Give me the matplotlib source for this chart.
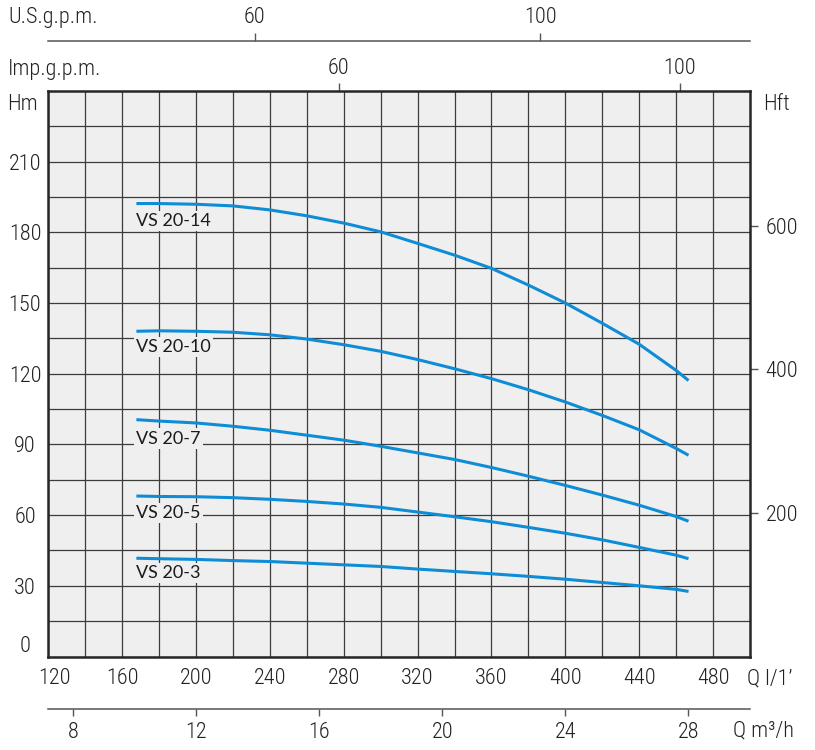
import numpy as np
import matplotlib
matplotlib.use("Agg")
import matplotlib.pyplot as plt
from matplotlib import font_manager as fm
from matplotlib.transforms import ScaledTranslation

# portata in l/min e prevalenza in m
portata = [167.7, 180, 200, 220, 240, 260, 280, 300, 320, 340, 360, 380, 400, 420, 440, 460, 466.7]
curve = {
    "VS 20-14": [192.2, 192.2, 191.9, 191.2, 189.5, 187.0, 183.9, 180.2, 175.3, 170.3, 164.7, 157.6, 150.0, 141.4, 132.5, 121.4, 117.1],
    "VS 20-10": [138.0, 138.2, 138.0, 137.6, 136.5, 134.7, 132.3, 129.5, 126.0, 122.1, 117.9, 113.2, 108.0, 102.3, 96.2, 88.3, 85.4],
    "VS 20-7": [100.5, 99.9, 99.1, 97.7, 96.0, 93.9, 91.8, 89.2, 86.4, 83.6, 80.2, 76.5, 72.6, 68.5, 64.2, 59.4, 57.4],
    "VS 20-5": [68.1, 67.9, 67.8, 67.4, 66.7, 65.8, 64.7, 63.3, 61.3, 59.3, 57.2, 54.8, 52.3, 49.5, 46.3, 43.0, 41.5],
    "VS 20-3": [41.7, 41.5, 41.2, 40.7, 40.3, 39.6, 38.9, 38.2, 37.1, 36.1, 35.1, 34.0, 32.8, 31.4, 30.0, 28.5, 27.6],
}
etichette_y = {"VS 20-14": 184.8, "VS 20-10": 131.3, "VS 20-7": 92.5, "VS 20-5": 61.0, "VS 20-3": 35.4}
etichette_x = 167.7

tick_lmin = [120, 160, 200, 240, 280, 320, 360, 400, 440, 480]
tick_m = [0, 30, 60, 90, 120, 150, 180, 210]
tick_m3h = [8, 12, 16, 20, 24, 28]
tick_usgpm = [60, 100]
tick_impgpm = [60, 100]
tick_ft = [200, 400, 600]

# scelta di un font stretto per i numeri
ttf = fm.fontManager.ttflist
nomi = {f.name for f in ttf}
fs = 16
if 'Liberation Sans Narrow' in nomi:
    plt.rcParams['font.family'] = ['Liberation Sans Narrow', 'DejaVu Sans']
elif 'Roboto Condensed' in nomi:
    plt.rcParams['font.family'] = ['Roboto Condensed', 'DejaVu Sans']
    plt.rcParams['font.weight'] = 'light'
elif any(f.name == 'DejaVu Sans' and f.stretch == 'condensed' for f in ttf):
    plt.rcParams['font.family'] = ['DejaVu Sans']
    plt.rcParams['font.stretch'] = 'condensed'
else:
    plt.rcParams['font.family'] = ['Roboto', 'DejaVu Sans']
    fs = 14.5

blu = '#0e8dd6'
sfondo = '#efefef'
grigio = '#555555'
nero = '#222222'

fig = plt.figure(figsize=(8.15, 7.5), dpi=100)
W, H = 815, 750
L, R, T, B = 48.3, 750, 90.9, 656.5
ax = fig.add_axes([L / W, 1 - B / H, (R - L) / W, (B - T) / H])
ax.set_facecolor(sfondo)
ax.set_xlim(120, 500)
ax.set_ylim(0, 240)

ax.set_xticks(tick_lmin)
ax.set_xticks(np.arange(140, 500, 40), minor=True)
ax.set_yticks(tick_m)
ax.set_yticks(np.arange(15, 240, 15), minor=True)
ax.grid(True, which='both', color='#3c3c3c', lw=0.9)
ax.set_axisbelow(True)
ax.tick_params(which='both', length=0)
ax.tick_params(axis='x', labelsize=fs, pad=8.5, colors=nero)
ax.tick_params(axis='y', labelsize=fs, pad=16.8, colors=nero)
for lab in ax.get_yticklabels():
    lab.set_ha('center')
for s in ax.spines.values():
    s.set_linewidth(1.8)
    s.set_color('#262626')

# spostamento etichette agli angoli
lx = ax.get_xticklabels()[0]
lx.set_transform(lx.get_transform() + ScaledTranslation(0.06, 0, fig.dpi_scale_trans))
ly = ax.get_yticklabels()[0]
ly.set_transform(ly.get_transform() + ScaledTranslation(0, 0.12, fig.dpi_scale_trans))

for nome, h in curve.items():
    ax.plot(portata, h, color=blu, lw=2.2, solid_capstyle='butt', zorder=3)
    ax.text(etichette_x, etichette_y[nome], nome, family=['Lato', 'DejaVu Sans'], stretch='normal',
            weight='normal', fontsize=13, color='#1c1c1c', ha='left', va='center', zorder=4,
            bbox=dict(boxstyle='square,pad=0.12', fc=sfondo, ec='none'))

# assi secondari
def sec_style(sa, lab_pad, length=5.8):
    sa.tick_params(length=length, width=1.0, color=grigio, labelsize=fs, pad=lab_pad, labelcolor=nero)

us = ax.secondary_xaxis(1 + (T - 41.3) / (B - T), functions=(lambda q: q / 3.865, lambda g: g * 3.865))
us.set_xticks(tick_usgpm)
sec_style(us, 4)
us.spines['top'].set_color(grigio)
us.spines['top'].set_linewidth(1.1)

imp = ax.secondary_xaxis('top', functions=(lambda q: q / 4.62, lambda g: g * 4.62))
imp.set_xticks(tick_impgpm)
sec_style(imp, 3)
imp.spines['top'].set_visible(False)

m3h = ax.secondary_xaxis(-(709 - B) / (B - T), functions=(lambda q: q * 0.06, lambda v: v / 0.06))
m3h.set_xticks(tick_m3h)
sec_style(m3h, 4, length=5)
m3h.spines['bottom'].set_color(grigio)
m3h.spines['bottom'].set_linewidth(1.1)

ft = ax.secondary_yaxis('right', functions=(lambda m: m * 3.2808, lambda f: f / 3.2808))
ft.set_yticks(tick_ft)
sec_style(ft, 5.5)
ft.spines['right'].set_visible(False)

# testi delle unità
kw = dict(fontsize=fs, color=nero, va='center')
fig.text(8 / W, 1 - 18 / H, 'U.S.g.p.m.', ha='left', **kw)
fig.text(8 / W, 1 - 69 / H, 'Imp.g.p.m.', ha='left', **kw)
fig.text(7 / W, 1 - 104 / H, 'Hm', ha='left', **kw)
fig.text(763 / W, 1 - 104 / H, 'Hft', ha='left', **kw)
fig.text(747 / W, 1 - 679 / H, 'Q l/1’', ha='left', **kw)
fig.text(733 / W, 1 - 731 / H, 'Q m³/h', ha='left', **kw)

fig.savefig('out.png', dpi=100, facecolor='white')
